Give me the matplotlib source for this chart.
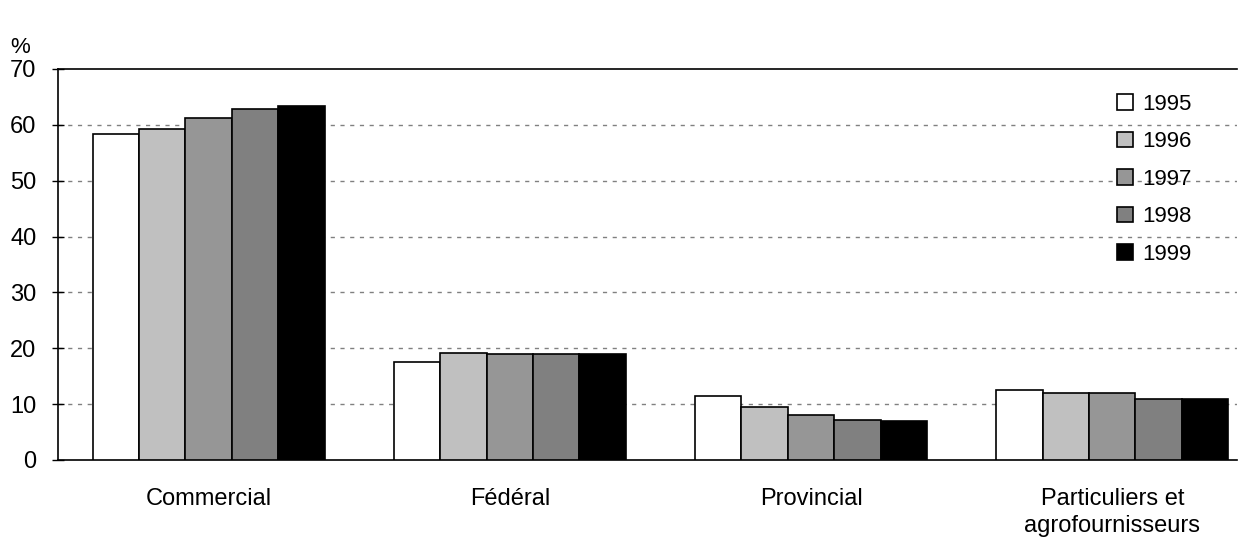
import numpy as np
from matplotlib import pyplot as plt

plt.rcParams['font.family'] = ['Liberation Sans', 'DejaVu Sans']

categories = ['Commercial', 'Fédéral', 'Provincial',
              'Particuliers et\nagrofournisseurs']
years = ['1995', '1996', '1997', '1998', '1999']
values = {
    '1995': [58.3, 17.5, 11.4, 12.5],
    '1996': [59.3, 19.2, 9.4, 12.0],
    '1997': [61.3, 18.9, 8.0, 12.0],
    '1998': [62.8, 18.9, 7.1, 10.9],
    '1999': [63.4, 18.9, 7.0, 10.9],
}
colors = ['#ffffff', '#c0c0c0', '#969696', '#808080', '#000000']

fig = plt.figure(figsize=(12.51, 5.39), dpi=100)
ax = fig.add_axes([0.0464, 0.1466, 0.9424, 0.7254])

x = np.arange(len(categories))
w = 0.154
for i, yr in enumerate(years):
    ax.bar(x + (i - 2) * w, values[yr], w, color=colors[i],
           edgecolor='black', linewidth=1.2, label=yr, zorder=3)

ax.set_xlim(-0.5, 3.414)
ax.set_ylim(0, 70)
ax.set_yticks(range(0, 71, 10))
ax.set_xticks(x)
ax.set_xticklabels(categories, linespacing=1.3)
ax.tick_params(axis='x', length=0, pad=20, labelsize=17)
ax.tick_params(axis='y', direction='inout', length=9, width=1,
               labelsize=17, pad=11)
for yv in range(10, 70, 10):
    ax.axhline(yv, color='#808080', linestyle=(0, (3, 4)),
               linewidth=1, zorder=1)

for side in ('left', 'bottom', 'top'):
    ax.spines[side].set_linewidth(1.2)
ax.spines['right'].set_visible(False)

fig.text(0.016, 0.912, '%', fontsize=16, va='center', ha='center')

ax.legend(loc='upper left', bbox_to_anchor=(0.893, 0.826),
          bbox_transform=fig.transFigure, borderpad=0, borderaxespad=0,
          frameon=False, fontsize=16, handlelength=0.7, handleheight=0.7,
          handletextpad=0.45, labelspacing=0.74)

plt.savefig('out.png', dpi=100)
